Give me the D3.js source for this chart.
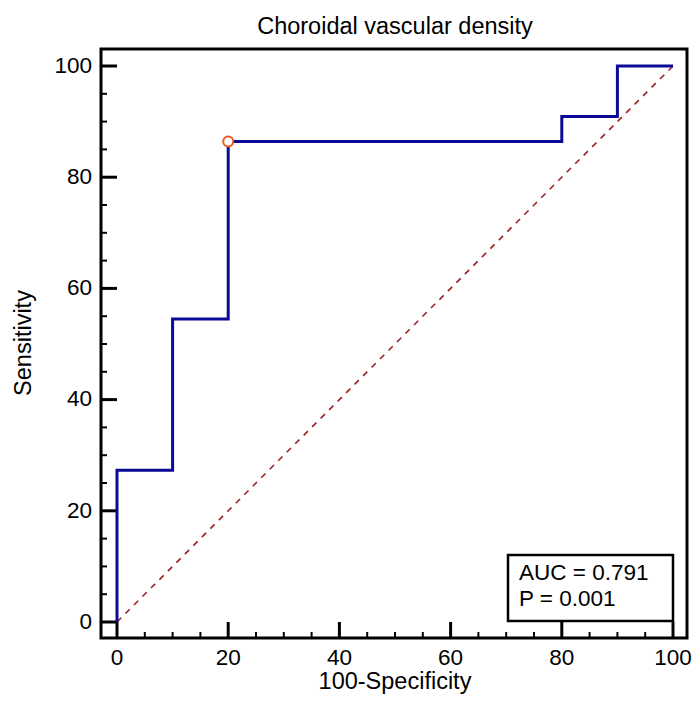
<!DOCTYPE html>
<html>
<head>
<meta charset="utf-8">
<script src="https://cdn.jsdelivr.net/npm/d3@7"></script>
<style>
  body { margin: 0; background: #fff; }
  text { font-family: "Liberation Sans", Arial, sans-serif; fill: #000; }
</style>
</head>
<body>
<div id="chart"></div>
<script>
// ROC steps (100-specificity, sensitivity)
const fpr = [0, 0, 10, 10, 20, 20, 80, 80, 90, 90, 100];
const tpr = [0, 27.3, 27.3, 54.5, 54.5, 86.4, 86.4, 90.9, 90.9, 100, 100];
const cutoff = [20, 86.4];
const majorTicks = [0, 20, 40, 60, 80, 100];
const statLines = ["AUC = 0.791", "P = 0.001"];

const W = 694, H = 701;
const svg = d3.select("#chart").append("svg").attr("width", W).attr("height", H);

const x = d3.scaleLinear().domain([0, 100]).range([117, 673]);
const y = d3.scaleLinear().domain([0, 100]).range([622, 66]);

const frame = { left: 101, top: 49, right: 687, bottom: 638 };

// frame
svg.append("rect")
  .attr("x", frame.left).attr("y", frame.top)
  .attr("width", frame.right - frame.left).attr("height", frame.bottom - frame.top)
  .attr("fill", "none").attr("stroke", "#000").attr("stroke-width", 3);

const minor = d3.range(0, 101, 5);

// y ticks (inward)
svg.append("g").selectAll("line").data(minor).join("line")
  .attr("x1", frame.left).attr("x2", d => frame.left + (d % 20 === 0 ? 16 : 6))
  .attr("y1", d => y(d)).attr("y2", d => y(d))
  .attr("stroke", "#000").attr("stroke-width", d => d % 20 === 0 ? 3 : 2);

// x ticks (inward)
svg.append("g").selectAll("line").data(minor).join("line")
  .attr("y1", frame.bottom).attr("y2", d => frame.bottom - (d % 20 === 0 ? 16 : 6))
  .attr("x1", d => x(d)).attr("x2", d => x(d))
  .attr("stroke", "#000").attr("stroke-width", d => d % 20 === 0 ? 3 : 2);

svg.append("g").selectAll("text").data(majorTicks).join("text")
  .attr("x", 92).attr("y", d => y(d)).attr("dy", "0.3em")
  .attr("text-anchor", "end").attr("font-size", 22.5).text(d => d);

svg.append("g").selectAll("text").data(majorTicks).join("text")
  .attr("x", d => x(d)).attr("y", 665)
  .attr("text-anchor", "middle").attr("font-size", 22.5).text(d => d);

// diagonal reference
svg.append("line")
  .attr("x1", x(0)).attr("y1", y(0)).attr("x2", x(100)).attr("y2", y(100))
  .attr("stroke", "#9b2226").attr("stroke-width", 1.6).attr("stroke-dasharray", "6,6");

// ROC curve
const pts = fpr.map((v, i) => [v, tpr[i]]);
svg.append("path")
  .attr("d", d3.line().x(d => x(d[0])).y(d => y(d[1]))(pts))
  .attr("fill", "none").attr("stroke", "#0a0a96").attr("stroke-width", 3);

// cutoff marker
svg.append("circle")
  .attr("cx", x(cutoff[0])).attr("cy", y(cutoff[1])).attr("r", 5)
  .attr("fill", "#fff").attr("stroke", "#f05a1a").attr("stroke-width", 2);

// stats box
svg.append("rect")
  .attr("x", 508).attr("y", 555).attr("width", 165).attr("height", 66)
  .attr("fill", "#fff").attr("stroke", "#000").attr("stroke-width", 2.5);
svg.append("g").selectAll("text").data(statLines).join("text")
  .attr("x", 519).attr("y", (d, i) => 580 + i * 26)
  .attr("font-size", 22.5).text(d => d);

// titles
svg.append("text").attr("x", 395).attr("y", 34).attr("text-anchor", "middle")
  .attr("font-size", 23.5).text("Choroidal vascular density");
svg.append("text").attr("x", 395).attr("y", 689).attr("text-anchor", "middle")
  .attr("font-size", 23.5).text("100-Specificity");
svg.append("text").attr("transform", "translate(31,343) rotate(-90)")
  .attr("text-anchor", "middle").attr("font-size", 23.5).text("Sensitivity");
</script>
</body>
</html>
